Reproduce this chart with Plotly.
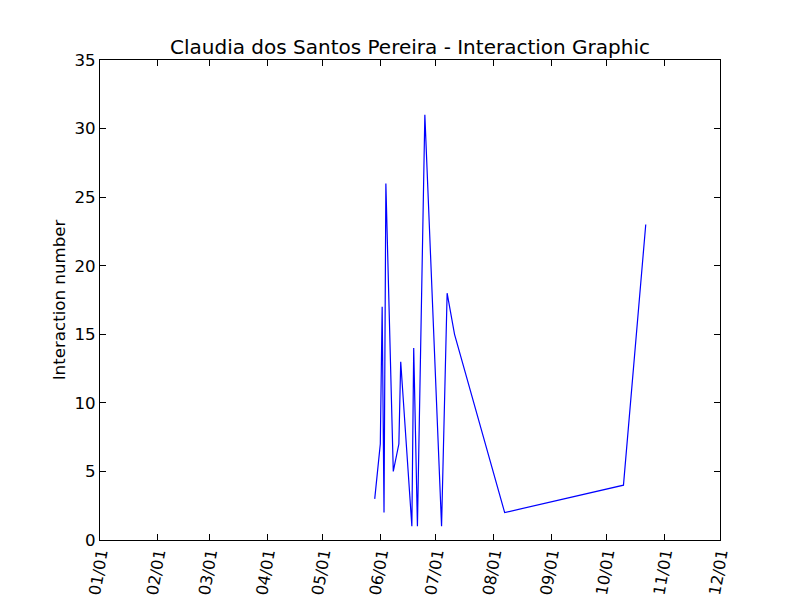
import plotly.graph_objects as go

dates = ["2015-05-29", "2015-06-01", "2015-06-02", "2015-06-03", "2015-06-04",
         "2015-06-08", "2015-06-11", "2015-06-12", "2015-06-18", "2015-06-19",
         "2015-06-21", "2015-06-25", "2015-07-04", "2015-07-07", "2015-07-11",
         "2015-08-07", "2015-10-10", "2015-10-22"]
interactions = [3, 7, 17, 2, 26, 5, 7, 13, 1, 14, 1, 31, 1, 18, 15, 2, 4, 23]

month_ticks = ["2015-%02d-01" % m for m in range(1, 13)]
month_labels = ["%02d/01" % m for m in range(1, 13)]
y_ticks = [0, 5, 10, 15, 20, 25, 30, 35]

FONT = "DejaVu Sans"

# page body has an 8px default margin, so the figure is drawn 8px smaller
W, H = 792, 592

fig = go.Figure()
fig.add_trace(go.Scatter(x=dates, y=interactions, mode="lines",
                         line=dict(color="#0000ff", width=1.2),
                         showlegend=False, hoverinfo="x+y"))

fig.update_layout(
    width=W, height=H,
    paper_bgcolor="white", plot_bgcolor="white",
    margin=dict(l=92, r=80, t=52, b=60, autoexpand=False),
    font=dict(family=FONT, size=16.67, color="black"),
    title=dict(text="Claudia dos Santos Pereira - Interaction Graphic",
               x=0.5, xref="paper", xanchor="center",
               y=1 - 39 / H, yref="container", yanchor="middle",
               font=dict(family=FONT, size=20, color="black")),
)

fig.update_xaxes(
    type="date", range=[month_ticks[0], month_ticks[-1]],
    tickmode="array", tickvals=month_ticks, ticktext=month_labels,
    tickangle=-80, ticks="inside", ticklen=6, tickcolor="black", tickwidth=1,
    ticklabelstandoff=-3,
    showline=True, linecolor="black", linewidth=1, mirror="ticks",
    showgrid=False, zeroline=False,
    tickfont=dict(family=FONT, size=16, color="black"),
)
fig.update_yaxes(
    range=[0, 35], tickmode="array", tickvals=y_ticks,
    ticks="inside", ticklen=6, tickcolor="black", tickwidth=1,
    showline=True, linecolor="black", linewidth=1, mirror="ticks",
    showgrid=False, zeroline=False,
    tickfont=dict(family=FONT, size=16.67, color="black"),
    title=dict(text="Interaction number", standoff=4,
               font=dict(family=FONT, size=16.67, color="black")),
)

fig.write_html("out.html")
